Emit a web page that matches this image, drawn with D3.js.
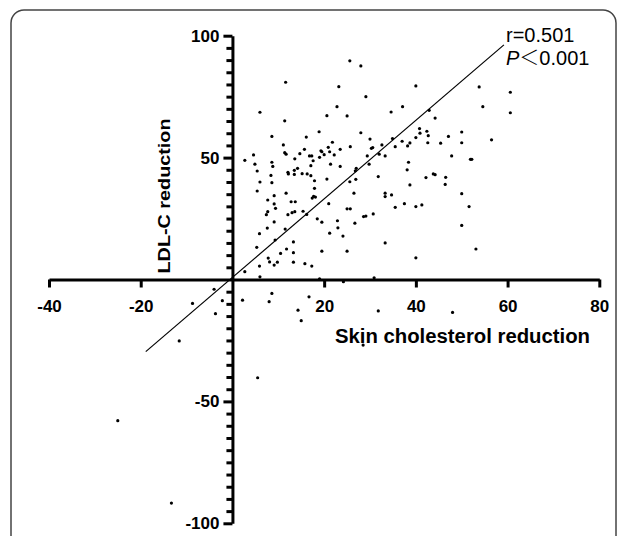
<!DOCTYPE html>
<html>
<head>
<meta charset="utf-8">
<title>skin cholesterol vs LDL-C</title>
<script src="https://d3js.org/d3.v7.min.js"></script>
<style>
  html, body { margin: 0; padding: 0; background: #fff; }
  svg text { font-family: "Liberation Sans", Arial, sans-serif; }
</style>
</head>
<body>
<div id="chart"></div>
<script>
// [skin cholesterol reduction, LDL-C reduction]
const points = [
  [11.6, 80.9], [6.0, 68.6], [11.4, 65.1], [20.6, 67.2], [8.6, 58.7], [18.9, 60.6], [16.1, 58.4], [11.1, 55.2],
  [2.7, 48.9], [4.6, 51.1], [4.9, 47.3], [5.4, 44.5], [11.4, 52.0], [11.7, 51.4], [15.7, 53.4], [14.7, 51.6],
  [13.6, 49.5], [8.6, 48.1], [8.8, 46.4], [16.8, 50.7], [17.3, 50.7], [17.6, 48.7], [17.1, 46.7], [19.3, 52.8],
  [19.5, 52.4], [20.0, 51.2], [19.0, 50.1], [20.9, 54.2], [21.2, 52.4], [21.8, 56.3], [21.4, 47.3], [14.2, 45.6],
  [13.5, 44.8], [13.5, 43.1], [12.1, 44.0], [12.2, 43.3], [15.2, 43.4], [16.3, 43.3], [17.1, 42.6], [8.4, 42.7],
  [6.0, 40.0], [8.6, 39.7], [17.9, 40.5], [20.6, 41.2], [5.4, 36.3], [11.7, 35.4], [17.9, 37.4], [9.1, 34.4],
  [17.4, 33.4], [17.7, 34.1], [18.1, 33.8], [7.7, 32.6], [12.8, 31.9], [13.7, 31.9], [9.1, 31.0], [9.4, 29.2],
  [21.0, 31.1], [7.7, 27.8], [7.4, 26.6], [12.1, 26.6], [13.0, 27.4], [13.6, 27.8], [15.4, 28.0], [16.2, 26.7],
  [9.1, 23.6], [18.5, 24.9], [19.5, 23.5], [7.6, 21.1], [11.5, 20.7], [5.9, 18.8], [21.2, 19.0], [9.3, 16.2],
  [13.3, 15.4], [5.3, 13.2], [11.8, 12.5], [10.5, 10.7], [13.3, 11.0], [19.5, 11.6], [7.8, 8.8], [8.1, 7.2],
  [9.1, 5.9], [9.8, 7.1], [13.3, 7.1], [5.9, 5.5], [15.8, 6.5], [17.3, 5.5], [2.7, 3.2], [6.0, 1.1], [19.0, 0.3],
  [25.6, 89.7], [28.0, 87.6], [23.2, 79.1], [40.0, 79.4], [29.1, 75.0], [22.8, 70.9], [37.1, 70.9], [34.6, 68.7],
  [25.0, 67.1], [28.0, 60.2], [30.0, 57.6], [22.2, 51.1], [23.5, 53.4], [25.7, 54.5], [30.3, 53.8], [30.6, 54.1],
  [32.6, 55.2], [34.9, 57.8], [37.0, 56.7], [38.2, 54.8], [38.7, 56.0], [40.0, 58.2], [40.8, 61.9], [40.9, 60.0],
  [42.4, 60.8], [42.7, 59.0], [42.6, 56.1], [35.5, 54.5], [29.4, 50.7], [32.0, 51.4], [33.3, 50.7], [23.5, 46.4],
  [29.8, 47.3], [27.0, 45.6], [26.8, 44.6], [38.4, 48.1], [38.1, 45.0], [31.8, 42.2], [26.9, 41.1], [25.6, 40.1],
  [42.2, 41.8], [38.7, 38.8], [26.5, 35.4], [33.3, 35.4], [33.3, 34.0], [34.7, 34.7], [25.0, 29.0], [25.7, 29.0],
  [37.5, 31.1], [35.5, 29.6], [40.0, 29.9], [41.3, 30.6], [30.7, 26.9], [28.6, 25.8], [29.1, 26.0], [22.9, 24.1],
  [26.7, 23.1], [23.0, 21.2], [24.1, 17.8], [33.3, 15.0], [25.0, 11.6], [40.0, 8.9], [24.2, -0.9], [30.9, 0.7],
  [53.8, 79.0], [60.6, 76.8], [54.6, 70.9], [60.6, 68.4], [42.9, 69.4], [44.2, 66.2], [45.4, 55.9], [47.1, 58.7],
  [50.0, 60.5], [50.0, 56.1], [56.5, 57.3], [47.8, 50.7], [51.9, 49.3], [52.2, 49.3], [43.8, 43.3], [44.2, 43.0],
  [46.5, 41.9], [46.4, 39.0], [50.0, 35.2], [51.6, 29.9], [50.0, 22.2], [53.1, 12.5],
  [-4.0, -4.0], [-8.7, -9.8], [-2.2, -8.7], [-3.7, -14.0], [2.2, -8.5], [-11.6, -25.2], [-25.0, -57.9],
  [-13.3, -91.7], [8.0, -9.1], [8.6, -5.7], [14.3, -12.6], [15.0, -16.9], [16.7, -7.1], [31.8, -12.9],
  [28.5, -26.9], [5.5, -40.3], [48.0, -13.5]
];

// fitted line (slope, intercept) and the x range it is drawn over
const fit = { slope: 1.611, intercept: 0.85, from: -18.9, to: 59.2 };
const stats = ["r=0.501", "0.001"];

const xTicks = [-40, -20, 20, 40, 60, 80];
const yTicks = [-100, -50, 50, 100];
const yMinor = d3.range(-95, 100, 5).filter(d => d % 50 !== 0);

const W = 627, H = 536;

const svg = d3.select("#chart").append("svg")
  .attr("width", W)
  .attr("height", H);

// rounded frame
svg.append("rect")
  .attr("x", 11).attr("y", 10)
  .attr("width", 605).attr("height", 560)
  .attr("rx", 13)
  .attr("fill", "none")
  .attr("stroke", "#444")
  .attr("stroke-width", 1.5);

const x = d3.scaleLinear().domain([-40, 80]).range([49, 599.3]);
const y = d3.scaleLinear().domain([-100, 100]).range([523.3, 35.7]);

// plain hyphen for negatives, like the original
const fmt = d => String(d);

// x axis through y = 0
svg.append("g")
  .attr("transform", "translate(0," + y(0) + ")")
  .call(d3.axisBottom(x).tickValues(xTicks).tickFormat(fmt).tickSize(8).tickSizeOuter(0).tickPadding(12));

// y axis through x = 0, minor ticks first
svg.append("g")
  .attr("class", "minor")
  .attr("transform", "translate(" + x(0) + ",0)")
  .call(d3.axisLeft(y).tickValues(yMinor).tickSize(6).tickFormat("").tickSizeOuter(0))
  .call(g => g.select(".domain").remove());

svg.append("g")
  .attr("transform", "translate(" + x(0) + ",0)")
  .call(d3.axisLeft(y).tickValues(yTicks).tickFormat(fmt).tickSize(9).tickSizeOuter(0).tickPadding(4));

svg.selectAll(".domain").attr("stroke-width", 3).attr("stroke", "#000");
svg.selectAll(".tick line").attr("stroke-width", 3).attr("stroke", "#000");
svg.selectAll(".tick text")
  .attr("font-family", "Liberation Sans, Arial, sans-serif")
  .attr("font-weight", "bold")
  .attr("font-size", 17)
  .attr("fill", "#000");

// regression line
svg.append("line")
  .attr("x1", x(fit.from)).attr("y1", y(fit.slope * fit.from + fit.intercept))
  .attr("x2", x(fit.to)).attr("y2", y(fit.slope * fit.to + fit.intercept))
  .attr("stroke", "#000")
  .attr("stroke-width", 1.2);

// points
svg.append("g").selectAll("circle")
  .data(points)
  .join("circle")
  .attr("cx", d => x(d[0]))
  .attr("cy", d => y(d[1]))
  .attr("r", 1.6)
  .attr("fill", "#000");

// axis titles
svg.append("text")
  .attr("x", 590).attr("y", 343)
  .attr("text-anchor", "end")
  .attr("font-weight", "bold")
  .attr("font-size", 20)
  .attr("textLength", 255)
  .attr("lengthAdjust", "spacingAndGlyphs")
  .text("Skin cholesterol reduction");

svg.append("text")
  .attr("transform", "translate(170,196) rotate(-90)")
  .attr("text-anchor", "middle")
  .attr("font-weight", "bold")
  .attr("font-size", 17)
  .attr("textLength", 155)
  .attr("lengthAdjust", "spacingAndGlyphs")
  .text("LDL-C reduction");

// r and P annotation
svg.append("text")
  .attr("x", 506).attr("y", 42)
  .attr("font-size", 20)
  .text(stats[0]);

const p = svg.append("text")
  .attr("x", 506).attr("y", 65)
  .attr("font-size", 20);
p.append("tspan").attr("font-style", "italic").text("P");
p.append("tspan").attr("font-family", "Noto Sans CJK SC").attr("font-weight", 300).text("＜");
p.append("tspan").text(stats[1]);
</script>
</body>
</html>
